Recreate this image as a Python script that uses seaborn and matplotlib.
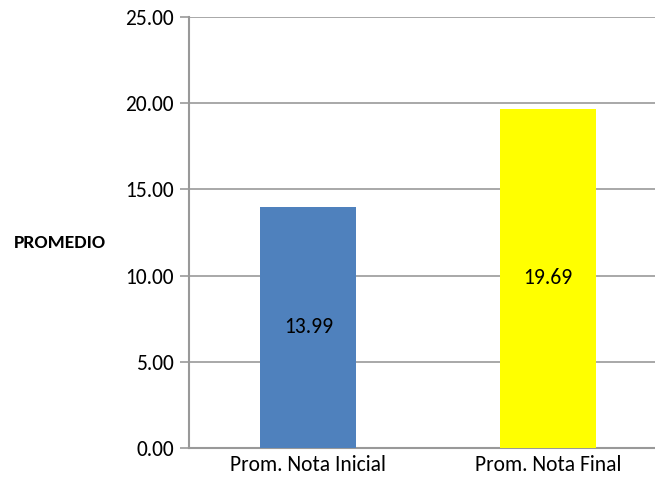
import matplotlib
matplotlib.use("Agg")
import matplotlib.pyplot as plt
import seaborn as sns
import pandas as pd

categorias = ["Prom. Nota Inicial", "Prom. Nota Final"]
promedios = [13.99, 19.69]
colores = ["#4F81BD", "#FFFF00"]
ticks_y = [0, 5, 10, 15, 20, 25]

sns.set_theme(style="white")
plt.rcParams["font.family"] = ["Carlito", "DejaVu Sans"]

df = pd.DataFrame({"categoria": categorias, "promedio": promedios})

fig = plt.figure(figsize=(6.55, 4.8), dpi=100)
ax = fig.add_axes([188.5 / 655, 32 / 480, 479.5 / 655, 431 / 480])

sns.barplot(data=df, x="categoria", y="promedio", hue="categoria",
            palette=colores, width=0.4, saturation=1, legend=False,
            linewidth=0, ax=ax, zorder=3)

ax.set_ylim(0, 25)
ax.set_xlim(-0.5, 1.5)
ax.set_yticks(ticks_y)
ax.set_yticklabels([f"{v:.2f}" for v in ticks_y], fontsize=15.5, color="black")
ax.tick_params(axis="x", length=0, labelsize=15.5, pad=5, labelcolor="black")
ax.tick_params(axis="y", length=6.5, width=1.2, color="#999999", pad=4, left=True)
ax.set_xlabel("")
ax.set_ylabel("")

ax.grid(axis="y", color="#999999", linewidth=1.2, zorder=0)
ax.grid(axis="x", visible=False)
for side in ["top", "right"]:
    ax.spines[side].set_visible(False)
for side in ["left", "bottom"]:
    ax.spines[side].set_color("#999999")
    ax.spines[side].set_linewidth(1.5)

for barra, valor in zip(ax.patches, promedios):
    ax.text(barra.get_x() + barra.get_width() / 2, valor / 2, f"{valor:.2f}",
            ha="center", va="center", fontsize=15.5, color="black", zorder=4)

fig.text(60 / 655, 1 - 243 / 480, "PROMEDIO", ha="center", va="center",
         fontsize=14, fontweight="bold", color="black")

fig.savefig("out.png", dpi=100)
